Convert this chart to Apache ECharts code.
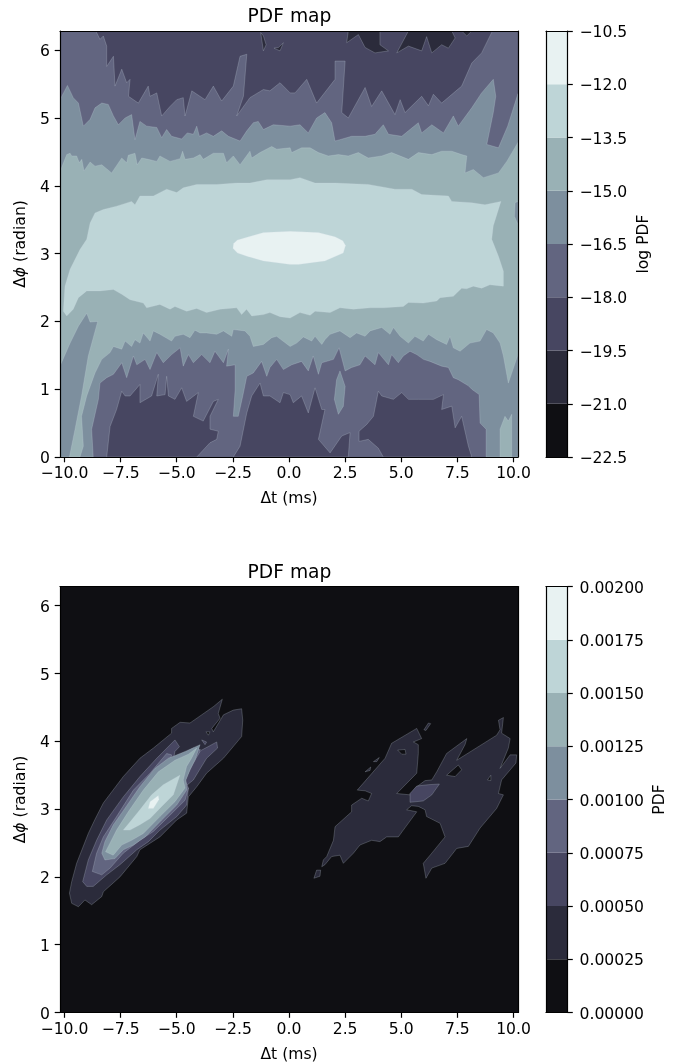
<!DOCTYPE html>
<html><head><meta charset="utf-8">
<style>html,body{margin:0;padding:0;background:#fff}#c{width:677px;height:1062px}</style>
<script src="https://cdn.jsdelivr.net/npm/echarts@6/dist/echarts.min.js"></script>
</head><body><div id="c"></div>
<script>
const bandColors=['#0f0f13','#2b2b3b','#474661','#626580','#7d8f9e','#99b1b5','#bed5d7','#e8f2f2'];
const xTicks=[-10,-7.5,-5,-2.5,0,2.5,5,7.5,10];
const yTicks=[0,1,2,3,4,5,6];
const xRange=[-10.2,10.2];
const yRange=[0,6.283];
const logLevels=[-22.5,-21,-19.5,-18,-16.5,-15,-13.5,-12,-10.5];
const pdfLevels=[0,0.00025,0.0005,0.00075,0.001,0.00125,0.0015,0.00175,0.002];

// ---- log PDF panel: contour outlines, [dt, dphi]
const logBand4=[[-10.2,5.27],[-9.87,5.48],[-9.61,5.30],[-9.38,5.22],[-9.16,4.88],[-8.86,4.98],[-8.64,5.15],[-8.34,5.22],[-8.05,5.20],[-7.82,5.03],[-7.60,4.90],[-7.30,5.00],[-7.01,5.05],[-6.86,4.68],[-6.64,4.95],[-6.34,4.88],[-5.89,4.86],[-5.67,4.71],[-5.45,4.83],[-5.23,4.73],[-4.78,4.69],[-4.53,4.78],[-4.26,4.76],[-4.11,4.88],[-3.99,4.73],[-3.67,4.78],[-3.37,4.73],[-3.00,4.81],[-2.70,4.73],[-2.18,4.66],[-1.88,4.81],[-1.59,4.93],[-1.37,4.95],[-1.14,4.83],[-0.70,4.90],[0.05,4.88],[0.49,4.90],[0.86,4.78],[1.23,5.00],[1.60,5.08],[1.90,4.93],[2.05,4.66],[2.27,4.68],[2.79,4.73],[3.39,4.73],[3.83,4.76],[4.20,4.90],[4.43,4.76],[5.02,4.73],[5.76,4.93],[5.91,4.78],[6.36,4.90],[6.88,4.78],[7.32,5.03],[7.54,4.88],[8.14,5.15],[8.58,5.37],[9.10,5.57],[9.21,5.32],[9.10,5.08],[8.81,4.61],[9.33,4.56],[9.74,4.88],[10.2,5.36],[10.2,0],[8.78,0],[8.78,0.41],[8.51,0.50],[8.47,0.92],[8.14,1.00],[7.99,1.05],[7.54,1.14],[7.32,1.17],[7.10,1.32],[6.80,1.34],[6.28,1.41],[5.99,1.44],[5.69,1.51],[5.39,1.56],[5.09,1.49],[4.87,1.39],[4.57,1.51],[4.43,1.36],[3.98,1.54],[3.83,1.36],[3.39,1.49],[3.16,1.36],[2.79,1.32],[2.50,1.27],[2.23,1.61],[1.98,1.44],[1.46,1.39],[1.31,1.22],[1.08,1.49],[0.86,1.27],[0.56,1.41],[0.12,1.36],[-0.25,1.29],[-0.55,1.44],[-0.85,1.32],[-0.99,1.19],[-1.22,1.41],[-1.59,1.24],[-1.88,1.19],[-2.06,0.90],[-2.26,0.60],[-2.48,0.60],[-2.40,0.99],[-2.40,1.36],[-2.78,1.34],[-2.70,1.59],[-2.92,1.39],[-3.30,1.56],[-3.52,1.39],[-3.89,1.51],[-4.26,1.39],[-4.48,1.51],[-4.71,1.34],[-4.85,1.61],[-5.23,1.51],[-5.60,1.39],[-5.89,1.54],[-6.19,1.29],[-6.41,1.44],[-6.78,1.36],[-6.93,1.49],[-7.23,1.17],[-7.45,1.39],[-7.82,1.22],[-8.12,1.17],[-8.42,1.09],[-8.49,0.85],[-8.79,0.41],[-8.72,0],[-10.2,0]];
const logBand5=[[-10.2,4.21],[-9.90,4.46],[-9.75,4.48],[-9.68,4.44],[-9.46,4.44],[-9.34,4.34],[-9.23,4.39],[-9.13,4.22],[-8.86,4.35],[-8.64,4.29],[-8.34,4.31],[-7.90,4.19],[-7.45,4.41],[-7.23,4.34],[-7.16,4.45],[-6.86,4.48],[-6.76,4.31],[-6.56,4.41],[-6.27,4.39],[-5.89,4.36],[-5.75,4.44],[-5.30,4.36],[-4.85,4.40],[-4.74,4.51],[-4.63,4.39],[-4.26,4.41],[-3.96,4.46],[-3.82,4.39],[-3.37,4.48],[-2.92,4.48],[-2.78,4.34],[-2.48,4.44],[-2.18,4.31],[-1.74,4.51],[-1.66,4.41],[-1.29,4.49],[-0.77,4.58],[-0.55,4.54],[0.05,4.56],[0.12,4.49],[0.56,4.56],[0.94,4.56],[1.31,4.49],[1.75,4.44],[2.20,4.46],[2.64,4.44],[3.09,4.49],[3.53,4.41],[4.13,4.44],[4.57,4.49],[5.32,4.39],[5.76,4.49],[6.36,4.46],[6.80,4.51],[7.25,4.51],[7.69,4.46],[7.92,4.44],[7.84,4.19],[8.21,4.24],[8.66,4.12],[9.33,4.19],[9.70,4.36],[10.2,4.64],[10.2,1.51],[9.77,1.09],[9.55,1.49],[9.40,1.68],[9.10,1.83],[8.80,1.88],[8.51,1.71],[8.06,1.68],[7.62,1.56],[7.32,1.61],[7.17,1.78],[7.02,1.66],[6.58,1.73],[6.21,1.81],[5.98,1.71],[5.61,1.78],[5.32,1.68],[4.95,1.78],[4.65,1.91],[4.50,1.81],[4.13,1.91],[3.61,1.86],[3.39,1.78],[3.01,1.83],[2.72,1.76],[2.27,1.86],[1.83,1.81],[1.60,1.73],[1.46,1.66],[1.16,1.78],[1.01,1.71],[0.64,1.77],[0.34,1.68],[0.05,1.63],[-0.55,1.78],[-0.77,1.76],[-1.14,1.66],[-1.59,1.63],[-1.74,1.78],[-1.96,1.86],[-2.48,1.88],[-2.55,1.78],[-2.92,1.86],[-3.22,1.81],[-3.67,1.83],[-3.96,1.83],[-4.19,1.87],[-4.41,1.76],[-4.71,1.81],[-5.08,1.78],[-5.23,1.71],[-5.75,1.81],[-6.04,1.86],[-6.19,1.71],[-6.49,1.83],[-6.64,1.68],[-6.86,1.73],[-7.01,1.63],[-7.30,1.71],[-7.45,1.59],[-7.82,1.63],[-7.97,1.54],[-8.34,1.44],[-8.64,1.24],[-9.01,0.90],[-9.24,0.60],[-9.16,0.16],[-9.31,0],[-9.78,0],[-9.53,0.41],[-9.24,0.90],[-8.94,1.49],[-8.52,2.00],[-8.86,1.99],[-9.01,2.12],[-9.38,1.93],[-9.75,1.68],[-10.2,1.34]];
const logBand6=[[-9.01,3.21],[-8.86,3.45],[-8.64,3.60],[-8.27,3.65],[-7.68,3.70],[-7.01,3.77],[-6.86,3.72],[-6.64,3.85],[-6.04,3.85],[-5.45,3.95],[-5.00,3.90],[-4.71,3.97],[-4.11,4.02],[-3.22,4.02],[-2.33,4.04],[-1.74,4.04],[-0.99,4.09],[0.05,4.09],[0.49,4.12],[1.16,4.04],[2.05,4.04],[3.53,4.02],[4.72,3.95],[5.47,3.95],[5.91,3.87],[7.10,3.85],[7.25,3.77],[8.14,3.75],[8.73,3.72],[9.44,3.77],[9.10,3.41],[9.03,3.21],[9.33,2.96],[9.55,2.74],[9.55,2.52],[8.95,2.54],[8.58,2.49],[8.21,2.52],[7.91,2.48],[7.69,2.49],[7.32,2.37],[6.73,2.35],[6.58,2.30],[5.98,2.27],[5.32,2.28],[5.09,2.22],[4.20,2.20],[3.61,2.20],[2.87,2.18],[2.27,2.20],[1.83,2.13],[1.16,2.15],[0.94,2.09],[0.49,2.13],[0.05,2.05],[-0.40,2.07],[-0.85,2.13],[-1.14,2.10],[-1.66,2.08],[-1.89,2.18],[-2.11,2.10],[-2.33,2.20],[-3.07,2.18],[-3.67,2.13],[-4.11,2.19],[-4.56,2.15],[-5.08,2.22],[-5.30,2.18],[-5.75,2.25],[-6.34,2.20],[-6.49,2.27],[-7.08,2.32],[-7.45,2.40],[-7.82,2.47],[-8.42,2.45],[-9.01,2.45],[-9.38,2.35],[-9.61,2.18],[-9.90,2.08],[-10.05,2.15],[-9.98,2.52],[-9.75,2.77],[-9.31,3.06]];
const logBand7=[[-2.50,3.08],[-2.47,3.15],[-2.30,3.20],[-1.88,3.24],[-1.14,3.31],[0.05,3.33],[1.31,3.31],[2.05,3.25],[2.40,3.19],[2.52,3.12],[2.42,3.01],[1.60,2.89],[0.42,2.84],[0.05,2.84],[-1.14,2.89],[-1.88,2.96],[-2.30,3.01]];
const logTopBand2=[[-8.60,6.283],[-8.42,6.16],[-8.27,6.21],[-8.12,6.06],[-8.12,5.76],[-7.82,5.91],[-7.75,5.47],[-7.45,5.72],[-7.23,5.52],[-7.08,5.57],[-7.15,5.32],[-6.71,5.22],[-6.27,5.47],[-6.19,5.32],[-5.89,5.37],[-5.67,5.03],[-5.30,5.17],[-5.00,5.27],[-4.71,5.30],[-4.63,5.03],[-4.33,5.40],[-3.74,5.27],[-3.37,5.47],[-3.00,5.25],[-2.48,5.47],[-2.18,5.91],[-1.88,5.94],[-2.03,5.32],[-2.33,5.03],[-1.74,5.30],[-1.14,5.42],[-0.85,5.40],[-0.40,5.52],[0.05,5.37],[0.27,5.37],[0.79,5.57],[1.23,5.22],[2.05,5.57],[2.05,5.84],[2.50,5.84],[2.35,5.08],[2.64,5.00],[3.39,5.45],[3.68,5.17],[4.13,5.40],[4.72,5.05],[4.95,5.27],[5.17,5.08],[5.91,5.32],[6.21,5.18],[6.43,5.35],[6.80,5.22],[7.69,5.47],[8.14,5.81],[8.58,5.96],[9.06,6.283]];
const logTopBand1a=[[2.64,6.283],[2.57,6.11],[3.09,6.23],[3.39,6.04],[3.83,5.96],[4.43,5.99],[4.05,6.08],[4.05,6.283]];
const logTopBand1b=[[5.32,6.283],[4.80,5.96],[5.32,6.06],[5.91,5.99],[6.13,6.20],[6.36,5.96],[6.80,6.08],[7.10,6.03],[7.40,6.18],[7.25,6.283]];
const logTopBand1c=[[7.69,6.283],[7.92,6.21],[8.14,6.283]];
const logTopBand1d=[[-1.26,6.26],[-1.14,5.99],[-1.02,6.08],[-1.14,6.21]];
const logTopBand1e=[[-0.67,6.03],[-0.40,5.99],[-0.25,6.11],[-0.47,6.04]];
const logLowBand2a=[[-8.12,0],[-7.97,0.45],[-7.68,0.70],[-7.45,0.97],[-7.30,0.90],[-7.08,0.90],[-6.64,1.07],[-6.64,0.80],[-6.12,0.90],[-5.82,1.22],[-5.89,0.90],[-5.52,0.92],[-5.45,1.19],[-5.37,0.90],[-5.08,0.85],[-4.78,1.02],[-4.56,0.82],[-4.04,0.95],[-4.26,0.60],[-3.82,0.53],[-3.37,0.82],[-3.15,0.85],[-3.52,0.60],[-3.52,0.41],[-3.15,0.38],[-3.22,0.26],[-3.52,0.21],[-4.11,0]];
const logLowBand2b=[[-2.48,0],[-2.18,0.16],[-1.88,0.65],[-1.66,0.90],[-1.29,1.09],[-1.14,0.90],[-0.85,0.90],[-0.40,0.80],[-0.25,0.95],[0.05,0.92],[0.19,0.80],[0.56,0.90],[0.86,0.65],[1.16,1.02],[1.46,0.70],[1.60,0.70],[1.31,0.26],[1.83,0.06],[2.35,0.31],[2.72,0.36],[2.64,0]];
const logLowBand2c=[[3.12,0.38],[3.12,0.23],[3.53,0.26],[3.98,0.13],[4.20,0],[8.14,0],[7.99,0.16],[7.69,0.60],[7.40,0.43],[7.25,0.75],[6.80,0.70],[6.88,0.92],[6.43,0.85],[5.76,0.85],[5.32,0.85],[5.02,0.95],[4.65,0.85],[4.13,0.90],[3.98,0.97],[3.76,0.60],[3.46,0.48]];
const logDrop4=[[2.27,1.27],[2.50,1.04],[2.42,0.75],[2.20,0.63],[2.02,0.85],[2.12,1.14]];
const logPatch5=[[9.40,0],[9.40,0.41],[9.62,0.60],[9.77,0.53],[9.92,0.63],[9.92,0]];
const logPatch4=[[10.07,3.75],[10.2,3.77],[10.2,3.43],[10.04,3.55]];

// ---- PDF panel
const pdfBand1=[[-9.78,1.76],[-9.68,1.93],[-9.46,2.20],[-8.94,2.64],[-8.64,2.85],[-8.27,3.09],[-7.38,3.48],[-6.64,3.75],[-6.04,3.90],[-5.23,4.12],[-5.23,4.19],[-4.85,4.28],[-4.41,4.27],[-3.37,4.51],[-2.97,4.62],[-3.15,4.41],[-3.07,4.34],[-3.44,4.19],[-3.37,4.14],[-2.92,4.39],[-2.48,4.46],[-2.11,4.48],[-2.06,4.31],[-2.11,4.07],[-2.92,3.75],[-3.67,3.53],[-4.11,3.33],[-4.48,3.18],[-4.56,2.94],[-5.00,2.84],[-5.75,2.59],[-6.64,2.40],[-6.78,2.30],[-7.53,2.00],[-8.27,1.78],[-8.34,1.71],[-8.79,1.59],[-9.09,1.66],[-9.38,1.56],[-9.68,1.61]];
const pdfBand2=[[-9.19,1.93],[-8.94,2.25],[-8.57,2.54],[-8.12,2.84],[-7.38,3.18],[-6.64,3.48],[-5.89,3.75],[-5.08,4.02],[-4.88,3.92],[-5.08,3.85],[-5.15,3.73],[-4.26,3.90],[-3.89,3.87],[-3.22,3.99],[-3.18,3.90],[-3.67,3.75],[-4.26,3.43],[-4.63,3.33],[-4.48,3.31],[-4.56,3.06],[-5.00,2.89],[-5.75,2.69],[-6.26,2.52],[-6.78,2.40],[-7.53,2.18],[-8.12,2.03],[-8.72,1.86],[-9.01,1.86]];
const pdfBand3=[[-8.76,2.08],[-8.57,2.35],[-8.27,2.59],[-7.68,2.89],[-6.93,3.28],[-6.19,3.53],[-5.45,3.82],[-5.23,3.80],[-5.30,3.68],[-5.00,3.70],[-4.26,3.82],[-4.04,3.90],[-3.96,3.85],[-4.26,3.68],[-4.63,3.43],[-4.48,3.31],[-4.63,3.13],[-5.30,2.91],[-6.04,2.67],[-6.64,2.54],[-7.38,2.35],[-7.97,2.13],[-8.34,2.03]];
const pdfBand4=[[-8.34,2.35],[-8.20,2.52],[-7.82,2.77],[-7.31,3.01],[-6.64,3.33],[-5.97,3.60],[-5.37,3.75],[-4.63,3.85],[-3.96,3.95],[-4.19,3.72],[-4.41,3.58],[-4.59,3.43],[-4.56,3.28],[-5.00,3.06],[-5.67,2.84],[-6.41,2.59],[-6.93,2.47],[-7.38,2.40],[-7.75,2.27],[-8.20,2.25]];
const pdfBand5=[[-8.17,2.37],[-7.97,2.50],[-7.68,2.69],[-7.16,2.96],[-6.49,3.28],[-5.82,3.55],[-5.08,3.72],[-4.48,3.81],[-4.11,3.90],[-4.34,3.75],[-4.56,3.63],[-4.71,3.43],[-4.63,3.31],[-5.08,3.11],[-5.75,2.89],[-6.49,2.64],[-7.01,2.54],[-7.45,2.47],[-7.83,2.32]];
const pdfBand6=[[-7.38,2.69],[-7.01,2.84],[-6.64,2.99],[-6.12,3.21],[-5.60,3.36],[-4.86,3.50],[-5.00,3.36],[-5.15,3.21],[-5.67,3.04],[-6.19,2.86],[-6.64,2.77],[-7.08,2.69]];
const pdfBand7=[[-6.27,3.01],[-6.19,3.11],[-5.82,3.20],[-5.79,3.14],[-6.04,3.01]];
const pdfRightLobes=[[1.46,2.15],[1.53,2.25],[1.68,2.30],[1.98,2.54],[2.05,2.74],[2.79,2.96],[2.79,3.06],[3.24,3.16],[3.53,3.12],[3.68,3.23],[3.39,3.27],[3.04,3.28],[4.28,3.75],[4.57,3.97],[5.69,4.19],[5.91,4.04],[5.54,3.99],[5.76,3.95],[5.76,3.82],[5.69,3.53],[4.80,3.23],[5.39,3.21],[5.69,3.33],[6.06,3.42],[6.36,3.43],[6.58,3.55],[7.02,3.82],[7.92,4.04],[7.84,3.95],[7.47,3.72],[9.25,4.09],[9.40,4.17],[9.33,4.31],[9.55,4.35],[9.47,4.12],[9.85,4.04],[9.77,3.90],[9.40,3.60],[9.85,3.80],[10.14,3.80],[10.11,3.68],[9.47,3.43],[9.33,3.23],[9.55,3.21],[9.25,3.01],[8.51,2.72],[7.99,2.45],[7.47,2.42],[6.95,2.20],[6.36,2.13],[6.10,1.98],[5.98,2.20],[6.36,2.35],[6.95,2.59],[6.73,2.79],[6.13,2.89],[6.06,2.99],[5.76,3.04],[5.46,3.05],[5.24,2.99],[5.69,2.96],[5.09,2.69],[4.87,2.59],[4.35,2.59],[4.05,2.52],[3.68,2.54],[3.16,2.47],[2.87,2.35],[2.42,2.20],[2.27,2.32],[1.90,2.30],[1.60,2.18]];
const pdfCentre2=[[5.39,3.23],[5.69,3.34],[6.21,3.36],[6.70,3.37],[6.36,3.21],[5.98,3.12],[5.39,3.10]];
const pdfHoleA=[[7.02,3.50],[7.54,3.65],[7.69,3.58],[7.40,3.48]];
const pdfHoleB=[[4.84,3.87],[5.17,3.88],[5.21,3.81],[5.02,3.81]];
const pdfHoleC=[[8.84,3.43],[8.99,3.50],[8.99,3.42]];
const pdfHoleD=[[-3.70,4.14],[-3.52,4.14],[-3.59,4.09]];
const pdfIslandA=[[1.11,1.98],[1.23,2.10],[1.41,2.10],[1.38,2.01]];
const pdfIslandB=[[6.01,4.17],[6.21,4.27],[6.31,4.26],[6.10,4.16]];
const pdfIslandC=[[3.39,3.55],[3.64,3.62],[3.61,3.57]];
const pdfIslandD=[[3.76,3.70],[4.02,3.76],[3.91,3.70]];
const pdfIslandE=[[-3.89,4.02],[-3.67,3.99],[-3.74,3.95]];

const logLayers=[[2,logTopBand2],[1,logTopBand1a],[1,logTopBand1b],[1,logTopBand1c],[1,logTopBand1d],[1,logTopBand1e],[2,logLowBand2a],[2,logLowBand2b],[2,logLowBand2c],[4,logBand4],[4,logDrop4],[5,logBand5],[5,logPatch5],[4,logPatch4],[6,logBand6],[7,logBand7]];
const pdfLayers=[[1,pdfBand1],[0,pdfHoleD],[2,pdfBand2],[2,pdfIslandE],[3,pdfBand3],[4,pdfBand4],[5,pdfBand5],[6,pdfBand6],[7,pdfBand7],[1,pdfRightLobes],[1,pdfIslandA],[1,pdfIslandB],[1,pdfIslandC],[1,pdfIslandD],[0,pdfHoleA],[0,pdfHoleB],[0,pdfHoleC],[2,pdfCentre2]];

const FONT='"DejaVu Sans"', FS=15.6;
const minus=s=>String(s).replace('-','\u2212');
const lineStyle={color:'#000',width:1.2};
const plotH=426,plotW=458,cbW=21.5,tops=[31,586.5];
const grids=[{left:60,top:tops[0],width:plotW,height:plotH,show:true,backgroundColor:bandColors[3],borderWidth:0,outerBoundsMode:'none'},
 {left:60,top:tops[1],width:plotW,height:plotH,show:true,backgroundColor:bandColors[0],borderWidth:0,outerBoundsMode:'none'},
 {left:546,top:tops[0],width:cbW,height:plotH,outerBoundsMode:'none'},{left:546,top:tops[1],width:cbW,height:plotH,outerBoundsMode:'none'}];
const frameAxis=(g,pos,range)=>({type:'value',gridIndex:g,position:pos,min:range[0],max:range[1],z:6,
  axisLine:{show:true,onZero:false,lineStyle},axisTick:{show:false},axisLabel:{show:false},splitLine:{show:false}});
const tickCfg=(vals)=>({show:true,length:5.3,inside:false,customValues:vals,lineStyle});
const labelCfg=(vals,fmt,m)=>({show:true,customValues:vals,formatter:fmt,margin:m,color:'#000',fontFamily:FONT,fontSize:FS,hideOverlap:false});
// y-axis tick labels sit about 2px lower than the canvas "middle" baseline puts them
const yLabelCfg=(vals,fmt,m)=>({...labelCfg(vals,v=>'{a|'+fmt(v)+'}',m),
  rich:{a:{color:'#000',fontFamily:FONT,fontSize:FS,padding:[4,0,0,0]}}});
const nameStyle={color:'#000',fontFamily:FONT,fontSize:FS};
const xAxes=[],yAxes=[];
[0,1].forEach(g=>{
  xAxes.push({type:'value',gridIndex:g,position:'bottom',min:xRange[0],max:xRange[1],z:6,
    axisLine:{show:true,onZero:false,lineStyle},axisTick:tickCfg(xTicks),axisLabel:labelCfg(xTicks,v=>minus(Number(v).toFixed(1)),9),
    splitLine:{show:false},name:'\u0394t (ms)',nameLocation:'middle',nameGap:34,nameTextStyle:nameStyle});
  xAxes.push(frameAxis(g,'top',xRange));
  yAxes.push({type:'value',gridIndex:g,position:'left',min:yRange[0],max:yRange[1],z:6,
    axisLine:{show:true,onZero:false,lineStyle},axisTick:tickCfg(yTicks),axisLabel:yLabelCfg(yTicks,v=>String(v),10),
    splitLine:{show:false},name:'{a|\u0394}{b|\u03d5}{a| (radian)}',nameLocation:'middle',nameGap:30,
    nameTextStyle:{...nameStyle,rich:{a:{...nameStyle},b:{...nameStyle,fontStyle:'italic'}}}});
  yAxes.push(frameAxis(g,'right',yRange));
});
const bars=[{levels:logLevels,name:'log PDF',gap:68,fmt:v=>minus(Number(v).toFixed(1))},
            {levels:pdfLevels,name:'PDF',gap:84,fmt:v=>Number(v).toFixed(5)}];
bars.forEach((b,i)=>{
  const g=i+2,range=[b.levels[0],b.levels[b.levels.length-1]];
  xAxes.push(frameAxis(g,'bottom',[0,1]));
  xAxes.push(frameAxis(g,'top',[0,1]));
  yAxes.push({type:'value',gridIndex:g,position:'right',min:range[0],max:range[1],z:6,
    axisLine:{show:true,onZero:false,lineStyle},axisTick:tickCfg(b.levels),axisLabel:yLabelCfg(b.levels,b.fmt,12),
    splitLine:{show:false},name:b.name,nameLocation:'middle',nameGap:b.gap,nameRotate:90,nameTextStyle:nameStyle});
  yAxes.push(frameAxis(g,'left',range));
});
const contour=(layers,g)=>({type:'custom',xAxisIndex:g*2,yAxisIndex:g*2,silent:true,clip:true,z:2,
  encode:{x:1,y:2},
  data:layers.map((l,i)=>[i,l[1][0][0],l[1][0][1]]),
  renderItem:(p,api)=>{const l=layers[api.value(0)];
    return {type:'polygon',shape:{points:l[1].map(q=>api.coord(q))},
      style:{fill:bandColors[l[0]],stroke:'rgba(205,215,225,0.4)',lineWidth:0.6}};}});
const colorbar=(levels,g)=>({type:'custom',xAxisIndex:g*2,yAxisIndex:g*2,silent:true,clip:true,z:2,
  encode:{x:0,y:1},
  data:levels.slice(0,-1).map((v,i)=>[0,v,levels[i+1],i]),
  renderItem:(p,api)=>{const a=api.coord([0,api.value(1)]),c=api.coord([1,api.value(2)]);
    return {type:'rect',shape:{x:a[0],y:c[1],width:c[0]-a[0],height:a[1]-c[1]},
      style:{fill:bandColors[api.value(3)]}};}});
const titles=tops.map(t=>({text:'PDF map',left:289.5,top:t-23,padding:0,textAlign:'center',
  textStyle:{fontFamily:FONT,fontSize:18.7,fontWeight:'normal',color:'#000'}}));
echarts.init(document.getElementById('c'),null,{renderer:'canvas'}).setOption({
  animation:false,backgroundColor:'#fff',title:titles,grid:grids,xAxis:xAxes,yAxis:yAxes,
  series:[contour(logLayers,0),contour(pdfLayers,1),colorbar(logLevels,2),colorbar(pdfLevels,3)]
});
</script></body></html>
